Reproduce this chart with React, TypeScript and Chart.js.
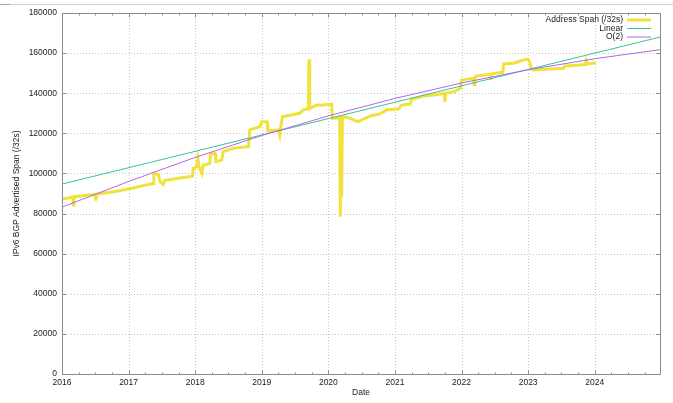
import React, { useEffect, useRef } from "react";
import { Chart, registerables } from "chart.js";

Chart.register(...registerables);

// ---- Data -------------------------------------------------------------
const seriesLabels = ["Address Span (/32s)", "Linear", "O(2)"];

const addrYears = [
  2016.0, 2016.1, 2016.16, 2016.17, 2016.18, 2016.4, 2016.5, 2016.51, 2016.52, 2016.8,
  2017.05, 2017.2, 2017.37, 2017.38, 2017.45, 2017.47, 2017.52, 2017.54, 2017.7, 2017.9,
  2017.96, 2017.97, 2018.02, 2018.04, 2018.06, 2018.1, 2018.12, 2018.14, 2018.22, 2018.23,
  2018.3, 2018.31, 2018.4, 2018.42, 2018.57, 2018.8, 2018.82, 2018.97, 2019.0, 2019.08,
  2019.09, 2019.25, 2019.27, 2019.28, 2019.31, 2019.57, 2019.62, 2019.7, 2019.71, 2019.72,
  2019.82, 2019.9, 2020.05, 2020.06, 2020.17, 2020.18, 2020.19, 2020.2, 2020.21, 2020.22,
  2020.3, 2020.4, 2020.45, 2020.62, 2020.77, 2020.88, 2021.05, 2021.1, 2021.23, 2021.25,
  2021.43, 2021.58, 2021.74, 2021.75, 2021.76, 2021.88, 2021.98, 2022.0, 2022.18, 2022.19,
  2022.2, 2022.23, 2022.43, 2022.44, 2022.45, 2022.48, 2022.62, 2022.63, 2022.78, 2022.85,
  2022.93, 2023.0, 2023.03, 2023.05, 2023.08, 2023.28, 2023.53, 2023.55, 2023.78, 2023.86,
  2023.87, 2023.89, 2023.98, 2024.02,
];
const addrValues = [
  87200, 87800, 88300, 84300, 88300, 89200, 89600, 86500, 89700, 91000,
  92600, 93800, 95000, 100000, 99500, 95900, 94500, 96500, 97400, 98400,
  98600, 102500, 103400, 107500, 103000, 100000, 104000, 104200, 105050, 109700,
  110000, 105900, 106700, 110850, 112500, 113400, 121700, 123300, 125800, 125800,
  121200, 121700, 119100, 122000, 128300, 130000, 131600, 132400, 156900, 132400,
  134100, 134000, 134600, 127500, 127800, 78400, 127000, 88400, 128000, 128300,
  127800, 126300, 125800, 128600, 129600, 131800, 132100, 134100, 134600, 137000,
  138600, 139100, 139900, 135700, 140000, 140700, 142400, 146600, 147400, 144400,
  147800, 148600, 149400, 146600, 149600, 149900, 150400, 154600, 154900, 155700,
  156600, 157000, 155000, 152000, 151600, 151900, 152400, 153600, 154100, 154300,
  156200, 154600, 154900, 155000,
];

const linearYears = [2016, 2024.98];
const linearValues = [94700, 168000];

const quadYears = [2016, 2017, 2018, 2019, 2020, 2021, 2022, 2023, 2024, 2024.98];
const quadValues = [83200, 96000, 108000, 118900, 128700, 137400, 145100, 151700, 157200, 161700];

const xTickYears = [2016, 2017, 2018, 2019, 2020, 2021, 2022, 2023, 2024];
const yTickValues = [0, 20000, 40000, 60000, 80000, 100000, 120000, 140000, 160000, 180000];

const X_MIN = 2016;
const X_MAX = 2024.98;

// ---- Styling ----------------------------------------------------------
const FONT = "'Liberation Sans', Arial, sans-serif";
const FONT_SIZE = 8.5;
const TEXT = "#1a1a1a";
const COLORS = ["#f0e23c", "#3cbf9c", "#b466e8"];
const WIDTHS = [3, 1, 1];

const toPoints = (xs: number[], ys: number[]) => xs.map((x, i) => ({ x, y: ys[i] }));

const gnuplotFrame = {
  id: "gnuplotFrame",
  beforeDatasetsDraw(chart: any) {
    const { ctx, chartArea, scales } = chart;
    const { left, right, top, bottom } = chartArea;
    ctx.save();
    ctx.strokeStyle = "#c6c6c6";
    ctx.lineWidth = 1;
    ctx.setLineDash([1, 2]);
    xTickYears.forEach((v) => {
      const px = Math.round(scales.x.getPixelForValue(v)) + 0.5;
      if (px > left + 2 && px < right - 2) {
        ctx.beginPath();
        ctx.moveTo(px, top);
        ctx.lineTo(px, bottom);
        ctx.stroke();
      }
    });
    yTickValues.forEach((v) => {
      const py = Math.round(scales.y.getPixelForValue(v)) + 0.5;
      if (py > top + 2 && py < bottom - 2) {
        ctx.beginPath();
        ctx.moveTo(left, py);
        ctx.lineTo(right, py);
        ctx.stroke();
      }
    });
    ctx.restore();
  },
  afterDatasetsDraw(chart: any) {
    const { ctx, chartArea, scales } = chart;
    const L = Math.round(chartArea.left) + 0.5;
    const R = Math.round(chartArea.right) + 0.5;
    const T = Math.round(chartArea.top) + 0.5;
    const B = Math.round(chartArea.bottom) + 0.5;
    ctx.save();
    ctx.setLineDash([]);
    ctx.strokeStyle = "#8c8c8c";
    ctx.lineWidth = 1;
    ctx.strokeRect(L, T, R - L, B - T);
    // ticks
    ctx.beginPath();
    xTickYears.forEach((v) => {
      const px = Math.round(scales.x.getPixelForValue(v)) + 0.5;
      ctx.moveTo(px, B);
      ctx.lineTo(px, B - 4);
      ctx.moveTo(px, T);
      ctx.lineTo(px, T + 4);
      [0.25, 0.5, 0.75].forEach((f) => {
        const val = v + f;
        if (val < X_MAX) {
          const mx = Math.round(scales.x.getPixelForValue(val)) + 0.5;
          ctx.moveTo(mx, B);
          ctx.lineTo(mx, B - 2);
          ctx.moveTo(mx, T);
          ctx.lineTo(mx, T + 2);
        }
      });
    });
    yTickValues.forEach((v) => {
      const py = Math.round(scales.y.getPixelForValue(v)) + 0.5;
      ctx.moveTo(L, py);
      ctx.lineTo(L + 4, py);
      ctx.moveTo(R, py);
      ctx.lineTo(R - 4, py);
    });
    ctx.stroke();

    // legend
    ctx.font = `${FONT_SIZE}px ${FONT}`;
    ctx.fillStyle = TEXT;
    ctx.textAlign = "right";
    ctx.textBaseline = "middle";
    const rowY = [20, 28.5, 37];
    seriesLabels.forEach((label, i) => {
      const y = rowY[i];
      ctx.fillText(label, 623, y);
      ctx.beginPath();
      ctx.strokeStyle = COLORS[i];
      ctx.lineWidth = WIDTHS[i];
      ctx.moveTo(627, y);
      ctx.lineTo(651, y);
      ctx.stroke();
    });
    ctx.restore();
  },
};

export default function App() {
  const canvasRef = useRef<HTMLCanvasElement | null>(null);

  useEffect(() => {
    if (!canvasRef.current) return;
    const font = { family: FONT, size: FONT_SIZE, lineHeight: 1 };
    const chart = new Chart(canvasRef.current, {
      type: "line",
      data: {
        datasets: [
          {
            label: seriesLabels[0],
            data: toPoints(addrYears, addrValues),
            borderColor: COLORS[0],
            borderWidth: WIDTHS[0],
            order: 3,
          },
          {
            label: seriesLabels[1],
            data: toPoints(linearYears, linearValues),
            borderColor: COLORS[1],
            borderWidth: WIDTHS[1],
            order: 2,
          },
          {
            label: seriesLabels[2],
            data: toPoints(quadYears, quadValues),
            borderColor: COLORS[2],
            borderWidth: WIDTHS[2],
            order: 1,
          },
        ],
      },
      options: {
        animation: false,
        responsive: false,
        maintainAspectRatio: false,
        devicePixelRatio: 1,
        layout: { padding: { left: 0, top: 13, right: 13, bottom: 0 } },
        elements: {
          point: { radius: 0, hoverRadius: 0 },
          line: { tension: 0, borderJoinStyle: "miter", borderCapStyle: "butt" },
        },
        plugins: {
          legend: { display: false },
          tooltip: { enabled: false },
        },
        scales: {
          x: {
            type: "linear",
            min: X_MIN,
            max: X_MAX,
            grid: { display: false, drawTicks: false },
            border: { display: false },
            afterBuildTicks: (scale: any) => {
              scale.ticks = xTickYears.map((v) => ({ value: v }));
            },
            afterFit: (scale: any) => {
              scale.height = 29;
            },
            ticks: {
              font,
              color: TEXT,
              padding: 4,
              maxRotation: 0,
              autoSkip: false,
              callback: (v: any) => String(v),
            },
            title: {
              display: true,
              text: "Date",
              font,
              color: TEXT,
              padding: { top: 0, bottom: 6.5 },
            },
          },
          y: {
            type: "linear",
            min: 0,
            max: 180000,
            grid: { display: false, drawTicks: false },
            border: { display: false },
            afterBuildTicks: (scale: any) => {
              scale.ticks = yTickValues.map((v) => ({ value: v }));
            },
            afterFit: (scale: any) => {
              scale.width = 62;
            },
            ticks: {
              font,
              color: TEXT,
              padding: 5,
              autoSkip: false,
              callback: (v: any) => String(v),
            },
            title: {
              display: true,
              text: "IPv6 BGP Advertised Span (/32s)",
              font,
              color: TEXT,
              padding: { top: 12.5, bottom: 0 },
            },
          },
        },
      },
      plugins: [gnuplotFrame],
    } as any);
    return () => chart.destroy();
  }, []);

  return (
    <div
      style={{
        position: "fixed",
        left: 0,
        top: 0,
        width: 673,
        height: 403,
        background: "#ffffff",
        overflow: "hidden",
      }}
    >
      <div style={{ position: "absolute", left: 0, top: 4, width: 673, height: 1, background: "#d2d2d2" }} />
      <div style={{ position: "absolute", left: 0, top: 4, width: 10, height: 1, background: "#a8a8a8" }} />
      <canvas ref={canvasRef} width={673} height={403} style={{ position: "absolute", left: 0, top: 0 }} />
    </div>
  );
}
